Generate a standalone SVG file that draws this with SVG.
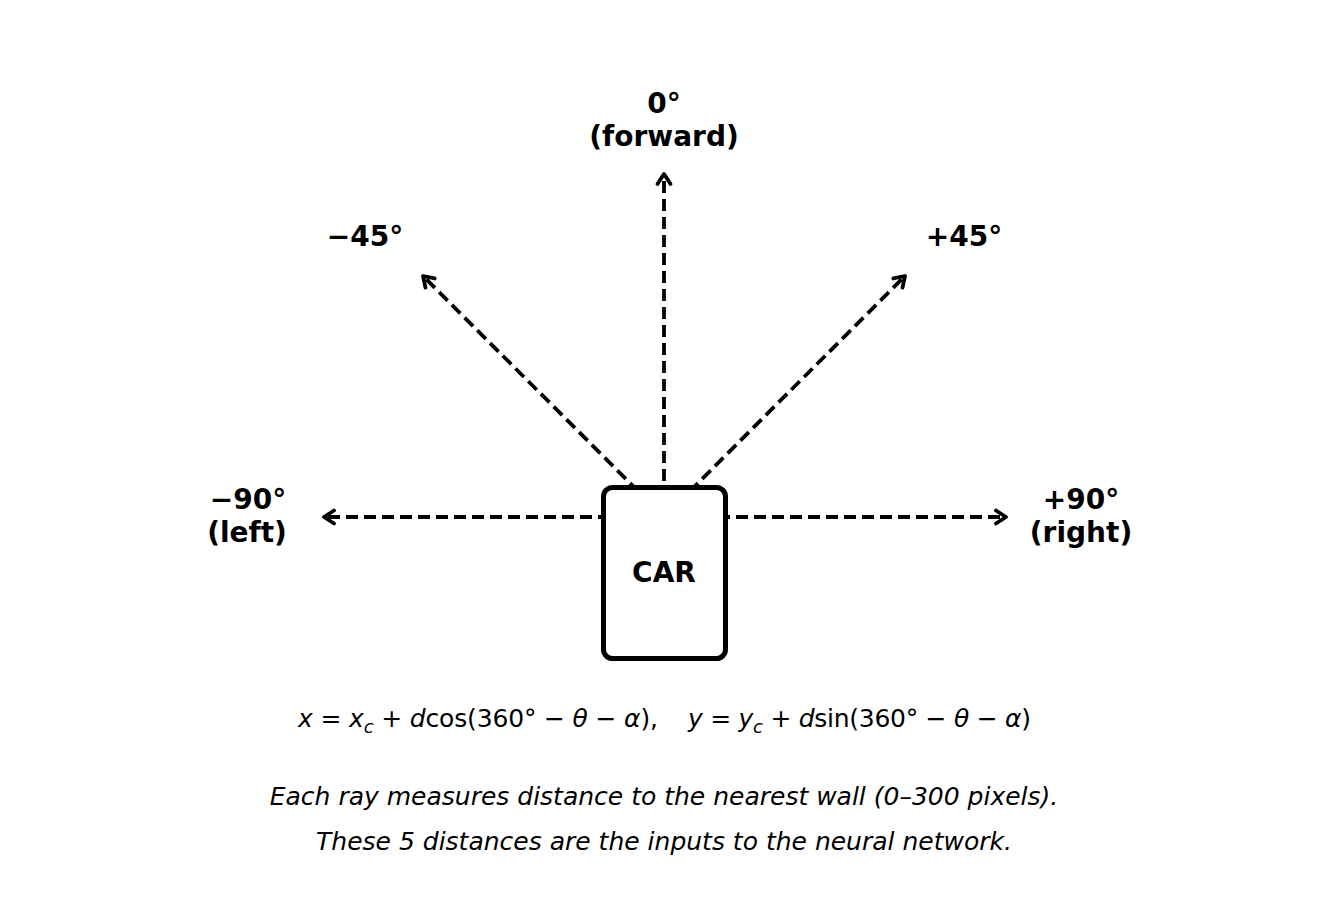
<svg xmlns="http://www.w3.org/2000/svg" width="1328" height="901" viewBox="0 0 1328 901">
  <style>
    .ray { stroke: #000; stroke-width: 3.8; stroke-dasharray: 12 6; fill: none; }
    .lbl { font-family: "DejaVu Sans", sans-serif; font-weight: bold; font-size: 28px; text-anchor: middle; fill: #000; }
    .math { font-family: "DejaVu Sans", sans-serif; font-size: 25px; fill: #000; }
    .it { font-style: italic; }
    .cap { font-family: "DejaVu Sans", sans-serif; font-style: italic; font-size: 25px; text-anchor: middle; fill: #000; }
  </style>
  <defs>
    <marker id="head" markerUnits="userSpaceOnUse" markerWidth="30" markerHeight="30" viewBox="-15 -15 30 30" refX="0" refY="0" orient="auto">
      <path d="M-10,-6.5 L0,0 L-10,6.5" fill="none" stroke="#000" stroke-width="3.8" stroke-linecap="round" stroke-linejoin="round"/>
    </marker>
  </defs>
  <rect width="1328" height="901" fill="#fff"/>
  <g id="connectors">
    <line class="ray" x1="664" y1="517" x2="664" y2="174" marker-end="url(#head)"/>
    <line class="ray" x1="664" y1="517" x2="423" y2="276" marker-end="url(#head)"/>
    <line class="ray" x1="664" y1="517" x2="905" y2="276" marker-end="url(#head)"/>
    <line class="ray" x1="664" y1="517" x2="324" y2="517" marker-end="url(#head)"/>
    <line class="ray" x1="664" y1="517" x2="1006" y2="517" marker-end="url(#head)"/>
  </g>
  <g id="car">
    <rect x="603.5" y="487.5" width="122" height="171" rx="9" fill="#fff" stroke="#000" stroke-width="5"/>
    <text class="lbl" x="664" y="582">CAR</text>
  </g>
  <g id="label-forward">
    <text class="lbl" x="664" y="113">0°</text>
    <text class="lbl" x="664" y="146">(forward)</text>
  </g>
  <g id="label-m45">
    <text class="lbl" x="365" y="246">−45°</text>
  </g>
  <g id="label-p45">
    <text class="lbl" x="964" y="246">+45°</text>
  </g>
  <g id="label-left">
    <text class="lbl" x="248" y="509">−90°</text>
    <text class="lbl" x="247" y="542">(left)</text>
  </g>
  <g id="label-right">
    <text class="lbl" x="1081" y="509">+90°</text>
    <text class="lbl" x="1081" y="542">(right)</text>
  </g>
  <g id="formula">
    <text class="math" x="298" y="727" textLength="360" lengthAdjust="spacing"><tspan class="it">x</tspan> = <tspan class="it">x</tspan><tspan class="it" font-size="18" dy="6">c</tspan><tspan dy="-6"> + </tspan><tspan class="it">d</tspan>cos(360° − <tspan class="it">θ</tspan> − <tspan class="it">α</tspan>),</text>
    <text class="math" x="688" y="727" textLength="343" lengthAdjust="spacing"><tspan class="it">y</tspan> = <tspan class="it">y</tspan><tspan class="it" font-size="18" dy="6">c</tspan><tspan dy="-6"> + </tspan><tspan class="it">d</tspan>sin(360° − <tspan class="it">θ</tspan> − <tspan class="it">α</tspan>)</text>
  </g>
  <g id="caption">
    <text class="cap" x="664" y="805">Each ray measures distance to the nearest wall (0–300 pixels).</text>
    <text class="cap" x="664" y="850">These 5 distances are the inputs to the neural network.</text>
  </g>
</svg>
